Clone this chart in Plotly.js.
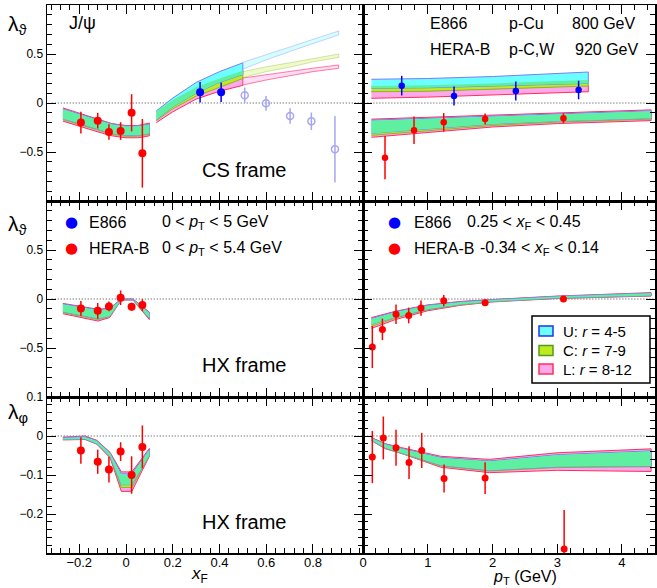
<!DOCTYPE html>
<html><head><meta charset="utf-8">
<script src="https://cdn.plot.ly/plotly-3.0.1.min.js"></script>
<style>html,body{margin:0;padding:0;background:#fff}#chart{width:657px;height:588px}</style>
</head><body><div id="chart"></div>
<script>
// ================= DATA =================
// HERA-B xF bins (shared by the three left panels)
const hbXF = [-0.193, -0.121, -0.073, -0.023, 0.024, 0.070];
// Top-left: CS frame lambda_theta vs xF
const csXF_hb_y = [-0.20, -0.18, -0.296, -0.286, -0.10, -0.513];
const csXF_hb_e = [0.11, 0.08, 0.08, 0.09, 0.19, 0.35];
const csXF_e866_x = [0.317, 0.407];
const csXF_e866_y = [0.109, 0.109];
const csXF_e866_e = [0.105, 0.10];
const csXF_e866ext_x = [0.508, 0.599, 0.702, 0.793, 0.894];
const csXF_e866ext_y = [0.078, -0.003, -0.133, -0.187, -0.472];
const csXF_e866ext_e = [0.08, 0.075, 0.08, 0.09, 0.34];
// Top-right: CS frame lambda_theta vs pT
const csPT_e866_x = [0.598, 1.406, 2.36, 3.33];
const csPT_e866_y = [0.177, 0.071, 0.122, 0.133];
const csPT_e866_e = [0.10, 0.097, 0.097, 0.095];
const csPT_hb_x = [0.34, 0.788, 1.247, 1.886, 3.096];
const csPT_hb_y = [-0.558, -0.279, -0.197, -0.163, -0.156];
const csPT_hb_e = [0.22, 0.14, 0.094, 0.056, 0.05];
// Middle-left: HX frame lambda_theta vs xF
const hxXF_hb_y = [-0.097, -0.12, -0.076, 0.013, -0.08, -0.062];
const hxXF_hb_e = [0.077, 0.08, 0.05, 0.074, 0.04, 0.06];
// Middle-right: HX frame lambda_theta vs pT
const hbPT = [0.144, 0.30, 0.51, 0.706, 0.896, 1.247, 1.886, 3.096];
const hxPT_hb_y = [-0.49, -0.31, -0.155, -0.168, -0.093, -0.017, -0.038, 0.0];
const hxPT_hb_e = [0.215, 0.11, 0.10, 0.08, 0.077, 0.058, 0.03, 0.012];
// Bottom-left: HX frame lambda_phi vs xF
const phXF_hb_y = [-0.037, -0.066, -0.086, -0.04, -0.10, -0.028];
const phXF_hb_e = [0.034, 0.031, 0.033, 0.024, 0.048, 0.055];
// Bottom-right: HX frame lambda_phi vs pT
const phPT_hb_x = [0.144, 0.314, 0.51, 0.711, 0.907, 1.252, 1.886, 3.107];
const phPT_hb_y = [-0.054, -0.005, -0.03, -0.068, -0.037, -0.109, -0.108, -0.29];
const phPT_hb_e = [0.067, 0.055, 0.046, 0.042, 0.045, 0.036, 0.041, 0.10];

// ---- model bands (U: r=4-5, C: r=7-9, L: r=8-12), upper/lower edges ----
// top-left, HERA-B range
const b1_x   = [-0.27, -0.2, -0.12, -0.06, 0.0, 0.05, 0.10];
const b1_Uup = [-0.06, -0.11, -0.17, -0.215, -0.235, -0.235, -0.215];
const b1_Ulo = [-0.16, -0.21, -0.27, -0.31, -0.33, -0.33, -0.31];
const b1_Cup = [-0.065, -0.115, -0.175, -0.22, -0.24, -0.24, -0.22];
const b1_Clo = [-0.17, -0.22, -0.28, -0.32, -0.34, -0.34, -0.32];
const b1_Lup = [-0.05, -0.10, -0.165, -0.21, -0.23, -0.23, -0.205];
const b1_Llo = [-0.185, -0.235, -0.295, -0.335, -0.355, -0.355, -0.335];
// top-left, E866 range
const b2_x   = [0.13, 0.2, 0.3, 0.4, 0.5];
const b2_Uup = [-0.08, 0.05, 0.21, 0.32, 0.41];
const b2_Ulo = [-0.17, -0.04, 0.10, 0.21, 0.29];
const b2_Cup = [-0.085, 0.03, 0.16, 0.25, 0.33];
const b2_Clo = [-0.18, -0.06, 0.07, 0.16, 0.25];
const b2_Lup = [-0.09, 0.01, 0.12, 0.19, 0.26];
const b2_Llo = [-0.20, -0.09, 0.04, 0.12, 0.18];
// top-left, extrapolation (faded)
const b3_x   = [0.5, 0.6, 0.7, 0.8, 0.91];
const b3_Uup = [0.415, 0.495, 0.57, 0.65, 0.735];
const b3_Ulo = [0.345, 0.44, 0.525, 0.61, 0.695];
const b3_Cup = [0.32, 0.37, 0.41, 0.455, 0.50];
const b3_Clo = [0.26, 0.32, 0.365, 0.42, 0.465];
const b3_Lup = [0.255, 0.29, 0.32, 0.355, 0.388];
const b3_Llo = [0.184, 0.235, 0.278, 0.32, 0.354];
// top-right, E866
const b4_x   = [0.13, 1.0, 2.0, 3.48];
const b4_Uup = [0.242, 0.25, 0.27, 0.316];
const b4_Ulo = [0.15, 0.155, 0.17, 0.20];
const b4_Cup = [0.173, 0.18, 0.20, 0.235];
const b4_Clo = [0.115, 0.12, 0.14, 0.173];
const b4_Lup = [0.12, 0.125, 0.145, 0.18];
const b4_Llo = [0.048, 0.06, 0.08, 0.115];
// top-right, HERA-B
const b5_x   = [0.13, 1.0, 2.0, 3.0, 4.45];
const b5_Uup = [-0.175, -0.155, -0.13, -0.11, -0.08];
const b5_Ulo = [-0.31, -0.265, -0.215, -0.185, -0.155];
const b5_Cup = [-0.18, -0.16, -0.135, -0.115, -0.085];
const b5_Clo = [-0.33, -0.28, -0.23, -0.195, -0.165];
const b5_Lup = [-0.165, -0.145, -0.12, -0.10, -0.07];
const b5_Llo = [-0.35, -0.30, -0.245, -0.21, -0.18];
// middle-left
const b6_x   = [-0.27, -0.12, -0.07, -0.02, 0.03, 0.10];
const b6_Uup = [-0.05, -0.11, -0.10, -0.003, -0.003, -0.14];
const b6_Ulo = [-0.13, -0.20, -0.175, -0.007, -0.007, -0.195];
const b6_Cup = [-0.055, -0.115, -0.105, -0.004, -0.004, -0.145];
const b6_Clo = [-0.14, -0.21, -0.18, -0.008, -0.008, -0.20];
const b6_Lup = [-0.045, -0.105, -0.095, 0.0, 0.0, -0.135];
const b6_Llo = [-0.15, -0.225, -0.19, -0.01, -0.01, -0.21];
// middle-right
const b7_x   = [0.13, 0.5, 1.0, 1.5, 2.0, 3.0, 4.45];
const b7_Uup = [-0.20, -0.13, -0.065, -0.03, -0.008, 0.027, 0.06];
const b7_Ulo = [-0.26, -0.185, -0.105, -0.055, -0.025, 0.01, 0.035];
const b7_Cup = [-0.205, -0.135, -0.068, -0.032, -0.01, 0.025, 0.058];
const b7_Clo = [-0.28, -0.195, -0.11, -0.06, -0.027, 0.008, 0.033];
const b7_Lup = [-0.19, -0.125, -0.06, -0.025, -0.005, 0.03, 0.065];
const b7_Llo = [-0.30, -0.21, -0.12, -0.065, -0.03, 0.005, 0.03];
// bottom-left
const b8_x   = [-0.27, -0.175, -0.125, -0.068, -0.02, 0.025, 0.10];
const b8_Uup = [-0.004, -0.002, -0.012, -0.044, -0.097, -0.097, -0.034];
const b8_Ulo = [-0.009, -0.008, -0.02, -0.053, -0.125, -0.125, -0.05];
const b8_Cup = [-0.005, -0.003, -0.013, -0.045, -0.100, -0.100, -0.035];
const b8_Clo = [-0.009, -0.008, -0.02, -0.054, -0.132, -0.132, -0.05];
const b8_Lup = [-0.003, 0.0, -0.011, -0.042, -0.092, -0.092, -0.032];
const b8_Llo = [-0.010, -0.009, -0.021, -0.056, -0.142, -0.142, -0.052];
// bottom-right
const b9_x   = [0.13, 0.35, 0.6, 1.2, 1.95, 3.0, 4.45];
const b9_Uup = [-0.005, -0.021, -0.032, -0.055, -0.064, -0.048, -0.038];
const b9_Ulo = [-0.011, -0.031, -0.043, -0.075, -0.088, -0.079, -0.077];
const b9_Cup = [-0.005, -0.022, -0.033, -0.056, -0.065, -0.049, -0.039];
const b9_Clo = [-0.011, -0.032, -0.044, -0.077, -0.09, -0.081, -0.079];
const b9_Lup = [-0.004, -0.02, -0.03, -0.052, -0.06, -0.043, -0.033];
const b9_Llo = [-0.012, -0.033, -0.045, -0.08, -0.094, -0.088, -0.091];

// ================= STYLE / BUILD =================
const FONT = 'Liberation Sans, Arial, Helvetica, sans-serif';
const RED = '#FF0000', BLUE = '#0000FF', LBLUE = '#A6A6F2';
const SOLID = {U:{fill:'#6CFFFF', line:'#7B7BFF'}, C:{fill:'#BDEB1E', line:'#8DB33A'},
               L:{fill:'#FFA8EC', line:'#FF2F5A'}, G:'#5FEFA0'};
const FADED = {U:{fill:'rgba(108,255,255,0.3)', line:'rgba(123,123,255,0.35)'},
               C:{fill:'rgba(189,235,30,0.25)', line:'rgba(141,179,58,0.35)'},
               L:{fill:'rgba(255,168,236,0.4)', line:'rgba(255,47,90,0.6)'}, G:'rgba(95,239,160,0.25)'};

const traces = [];
function poly(xs, up, lo, xa, ya, fill, line) {
  traces.push({x: xs.concat(xs.slice().reverse()), y: up.concat(lo.slice().reverse()),
    xaxis: xa, yaxis: ya, mode: 'lines', fill: 'toself', fillcolor: fill,
    line: {color: line || 'rgba(0,0,0,0)', width: line ? 1 : 0}, hoverinfo: 'skip', showlegend: false});
}
function band(xs, Uu, Ul, Cu, Cl, Lu, Ll, xa, ya, sty) {
  poly(xs, Lu, Ll, xa, ya, sty.L.fill, sty.L.line);
  poly(xs, Cu, Cl, xa, ya, sty.C.fill, sty.C.line);
  poly(xs, Uu, Ul, xa, ya, sty.U.fill, sty.U.line);
  const gu = Uu.map((v, i) => Math.min(v, Cu[i]));
  const gl = Ul.map((v, i) => Math.min(Math.max(v, Cl[i]), gu[i]));
  poly(xs, gu, gl, xa, ya, sty.G, null);
}
band(b1_x, b1_Uup, b1_Ulo, b1_Cup, b1_Clo, b1_Lup, b1_Llo, 'x', 'y', SOLID);
band(b2_x, b2_Uup, b2_Ulo, b2_Cup, b2_Clo, b2_Lup, b2_Llo, 'x', 'y', SOLID);
band(b3_x, b3_Uup, b3_Ulo, b3_Cup, b3_Clo, b3_Lup, b3_Llo, 'x', 'y', FADED);
band(b4_x, b4_Uup, b4_Ulo, b4_Cup, b4_Clo, b4_Lup, b4_Llo, 'x2', 'y2', SOLID);
band(b5_x, b5_Uup, b5_Ulo, b5_Cup, b5_Clo, b5_Lup, b5_Llo, 'x2', 'y2', SOLID);
band(b6_x, b6_Uup, b6_Ulo, b6_Cup, b6_Clo, b6_Lup, b6_Llo, 'x3', 'y3', SOLID);
band(b7_x, b7_Uup, b7_Ulo, b7_Cup, b7_Clo, b7_Lup, b7_Llo, 'x4', 'y4', SOLID);
band(b8_x, b8_Uup, b8_Ulo, b8_Cup, b8_Clo, b8_Lup, b8_Llo, 'x5', 'y5', SOLID);
band(b9_x, b9_Uup, b9_Ulo, b9_Cup, b9_Clo, b9_Lup, b9_Llo, 'x6', 'y6', SOLID);

function pts(x, y, e, xa, ya, color, size, open) {
  traces.push({x: x, y: y, xaxis: xa, yaxis: ya, mode: 'markers', type: 'scatter',
    marker: open ? {symbol: 'circle-open', size: size, color: color, line: {color: color, width: 1.5}}
                 : {symbol: 'circle', size: size, color: color},
    error_y: {type: 'data', array: e, visible: true, width: 0, thickness: 1.5, color: color},
    hoverinfo: 'x+y', showlegend: false});
}
pts(csXF_e866ext_x, csXF_e866ext_y, csXF_e866ext_e, 'x', 'y', LBLUE, 7, true);
pts(hbXF, csXF_hb_y, csXF_hb_e, 'x', 'y', RED, 8);
pts(csXF_e866_x, csXF_e866_y, csXF_e866_e, 'x', 'y', BLUE, 8);
pts(csPT_e866_x, csPT_e866_y, csPT_e866_e, 'x2', 'y2', BLUE, 6.5);
pts(csPT_hb_x, csPT_hb_y, csPT_hb_e, 'x2', 'y2', RED, 6.5);
pts(hbXF, hxXF_hb_y, hxXF_hb_e, 'x3', 'y3', RED, 8);
pts(hbPT, hxPT_hb_y, hxPT_hb_e, 'x4', 'y4', RED, 7);
pts(hbXF, phXF_hb_y, phXF_hb_e, 'x5', 'y5', RED, 8);
pts(phPT_hb_x, phPT_hb_y, phPT_hb_e, 'x6', 'y6', RED, 7);

// ================= LAYOUT =================
const W = 657, H = 588, ML = 47, MR = 2, MT = 5, MB = 35;
const PW = W - ML - MR, PH = H - MT - MB;
const px = v => (v - ML) / PW, py = v => (H - MB - v) / PH;
const colL = [0, px(363)], colR = [px(363), 1];
const rowT = [py(201), 1], rowM = [py(397), py(201)], rowB = [0, py(397)];

function ax(extra) {
  const base = {showline: true, linecolor: '#000', linewidth: 1.5, mirror: 'ticks', ticks: 'inside',
    ticklen: 9, tickwidth: 1, tickcolor: '#000', showgrid: false, zeroline: false, fixedrange: true,
    automargin: false, tickfont: {family: FONT, size: 12, color: '#000'}, tickmode: 'array'};
  const o = Object.assign(base, extra);
  o.minor = Object.assign({ticks: 'inside', ticklen: 5, tickwidth: 1, tickcolor: '#000', showgrid: false, tickmode: 'linear', tick0: 0}, extra.minor);
  return o;
}
const xLrange = [-0.338, 1.014], xRrange = [0, 4.51];
const xLt = [-0.2, 0, 0.2, 0.4, 0.6, 0.8], xRt = [0, 1, 2, 3, 4];
const yBig = [-0.5, 0, 0.5], ySmall = [-0.2, -0.1, 0, 0.1];
const layout = {
  width: W, height: H, margin: {l: ML, r: MR, t: MT, b: MB}, paper_bgcolor: '#fff', plot_bgcolor: '#fff',
  showlegend: false, font: {family: FONT, color: '#000'},
  xaxis:  ax({domain: colL, anchor: 'y',  range: xLrange, tickvals: xLt, showticklabels: false, minor: {dtick: 0.04}}),
  xaxis2: ax({domain: colR, anchor: 'y2', range: xRrange, tickvals: xRt, showticklabels: false, minor: {dtick: 0.2}}),
  xaxis3: ax({domain: colL, anchor: 'y3', range: xLrange, tickvals: xLt, showticklabels: false, minor: {dtick: 0.04}}),
  xaxis4: ax({domain: colR, anchor: 'y4', range: xRrange, tickvals: xRt, showticklabels: false, minor: {dtick: 0.2}}),
  xaxis5: ax({domain: colL, anchor: 'y5', range: xLrange, tickvals: xLt, ticktext: ['\u22120.2','0','0.2','0.4','0.6','0.8'], showticklabels: true, ticklabelstandoff: -3, tickfont: {family: FONT, size: 13, color: '#000'}, minor: {dtick: 0.04}}),
  xaxis6: ax({domain: colR, anchor: 'y6', range: xRrange, tickvals: xRt, showticklabels: true, ticklabelstandoff: -3, tickfont: {family: FONT, size: 13, color: '#000'}, minor: {dtick: 0.2}}),
  yaxis:  ax({domain: rowT, anchor: 'x',  range: [-1, 1], tickvals: yBig, ticktext: ['\u22120.5','0','0.5'], minor: {dtick: 0.1}}),
  yaxis2: ax({domain: rowT, anchor: 'x2', range: [-1, 1], tickvals: yBig, showticklabels: false, minor: {dtick: 0.1}}),
  yaxis3: ax({domain: rowM, anchor: 'x3', range: [-1, 1], tickvals: yBig, ticktext: ['\u22120.5','0','0.5'], minor: {dtick: 0.1}}),
  yaxis4: ax({domain: rowM, anchor: 'x4', range: [-1, 1], tickvals: yBig, showticklabels: false, minor: {dtick: 0.1}}),
  yaxis5: ax({domain: rowB, anchor: 'x5', range: [-0.3, 0.1], tickvals: ySmall, ticktext: ['\u22120.2','\u22120.1','0','0.1'], minor: {dtick: 0.02}}),
  yaxis6: ax({domain: rowB, anchor: 'x6', range: [-0.3, 0.1], tickvals: ySmall, showticklabels: false, minor: {dtick: 0.02}}),
  shapes: [], annotations: []
};
// dotted zero lines
[['x','y'],['x2','y2'],['x3','y3'],['x4','y4'],['x5','y5'],['x6','y6']].forEach(([a, b]) => {
  layout.shapes.push({type: 'line', xref: a + ' domain', yref: b, x0: 0.015, x1: 1, y0: 0, y1: 0,
    line: {color: '#444', width: 1, dash: '1px,2px'}, layer: 'below'});
});
function txt(t, x, y, size, anchor, color, family) {
  layout.annotations.push({text: t, x: px(x), y: py(y), xref: 'paper', yref: 'paper', showarrow: false,
    xanchor: anchor || 'left', yanchor: 'middle', borderpad: 0,
    font: {family: family || FONT, size: size, color: color || '#000'}});
}
// axis titles
txt('\u03bb<sub>\u03d1</sub>', 7, 25, 21);
txt('\u03bb<sub>\u03d1</sub>', 7, 225, 21);
txt('\u03bb<sub>\u03c6</sub>', 7, 413, 21);
txt('<i>x</i><sub>F</sub>', 199, 575, 17, 'center');
txt('<i>p</i><sub>T</sub> (GeV)', 525, 577, 16, 'center');
// panel labels
txt('J/\u03c8', 68, 23, 18);
txt('CS frame', 244, 170, 20, 'center');
txt('HX frame', 244, 365, 20, 'center');
txt('HX frame', 244, 522, 20, 'center');
// experiments text
txt('E866', 429, 24, 16); txt('p-Cu', 508, 24, 16); txt('800 GeV', 571, 24, 16);
txt('HERA-B', 429, 50, 16); txt('p-C,W', 508, 50, 16); txt('920 GeV', 574, 50, 16);
// left legend
txt('\u25cf', 71, 222, 15, 'center', BLUE, 'DejaVu Sans');
txt('\u25cf', 71, 248, 15, 'center', RED, 'DejaVu Sans');
txt('E866', 88, 222, 16); txt('HERA-B', 88, 248, 16);
txt('0 &lt; <i>p</i><sub>T</sub> &lt; 5 GeV', 161, 222, 16);
txt('0 &lt; <i>p</i><sub>T</sub> &lt; 5.4 GeV', 161, 248, 16);
// right legend
txt('\u25cf', 394, 222, 15, 'center', BLUE, 'DejaVu Sans');
txt('\u25cf', 394, 248, 15, 'center', RED, 'DejaVu Sans');
txt('E866', 413, 222, 16); txt('HERA-B', 413, 248, 16);
txt('0.25 &lt; <i>x</i><sub>F</sub> &lt; 0.45', 466, 222, 16);
txt('-0.34 &lt; <i>x</i><sub>F</sub> &lt; 0.14', 479, 248, 16);
// model legend box
layout.shapes.push({type: 'rect', xref: 'paper', yref: 'paper', x0: px(532), x1: px(650), y0: py(383), y1: py(316),
  line: {color: '#000', width: 1.5}, fillcolor: '#fff', layer: 'above'});
const legRows = [[331, SOLID.U, 'U: <i>r</i> = 4-5', '#2233EE'], [350.5, SOLID.C, 'C: <i>r</i> = 7-9', '#559922'], [369, SOLID.L, 'L: <i>r</i> = 8-12', SOLID.L.line]];
legRows.forEach(([yy, s, label, lc]) => {
  layout.shapes.push({type: 'rect', xref: 'paper', yref: 'paper', x0: px(539), x1: px(553), y0: py(yy + 5), y1: py(yy - 5),
    line: {color: lc, width: 1.5}, fillcolor: s.fill, layer: 'above'});
  txt(label, 562, yy, 15);
});

Plotly.newPlot('chart', traces, layout, {staticPlot: true});
</script></body></html>
